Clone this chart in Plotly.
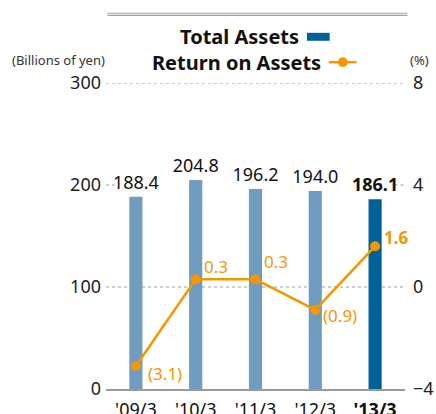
import plotly.graph_objects as go

# Fiscal years (March year-end)
years = ["'09/3", "'10/3", "'11/3", "'12/3", "'13/3"]
total_assets = [188.4, 204.8, 196.2, 194.0, 186.1]   # billions of yen
roa = [-3.1, 0.3, 0.3, -0.9, 1.6]                    # percent
left_ticks = [0, 100, 200, 300]
right_ticks = [-4, 0, 4, 8]

FONT = "Noto Sans"
BAR_LIGHT = "#6f9cc0"
BAR_DARK = "#006196"
ORANGE = "#f39800"
GRID = "#9a9a9a"


def fmt_pct(v):
    return f"({abs(v):.1f})" if v < 0 else f"{v:.1f}"


n = len(years)
x = list(range(n))
bar_colors = [BAR_LIGHT] * (n - 1) + [BAR_DARK]
bar_text = [f"{v:.1f}" for v in total_assets[:-1]] + [f"<b>{total_assets[-1]:.1f}</b>"]
tick_text = years[:-1] + [f"<b>{years[-1]}</b>"]
# label offsets (px) beside each ROA point
roa_shift = [(10, -7), (6, 13), (6, 18), (6, -6), (7, 9)]

fig = go.Figure()
fig.add_trace(go.Bar(
    x=x, y=total_assets, width=0.22, marker=dict(color=bar_colors, line=dict(width=0)),
    text=bar_text, textposition="outside", cliponaxis=False, constraintext="none",
    textfont=dict(family=FONT, size=18, color="#111"),
    name="Total Assets", yaxis="y",
))
fig.add_trace(go.Scatter(
    x=x, y=roa, mode="lines+markers",
    line=dict(color=ORANGE, width=2.5), marker=dict(color=ORANGE, size=10),
    cliponaxis=False, name="Return on Assets", yaxis="y2",
))

fig.update_layout(
    width=436, height=414,
    margin=dict(l=106, r=31, t=83, b=25, pad=0),
    paper_bgcolor="white", plot_bgcolor="white",
    showlegend=False,
    font=dict(family=FONT, color="#222"),
    xaxis=dict(
        range=[-0.5, n - 0.5], tickvals=x, ticktext=tick_text, automargin=False,
        showgrid=False, zeroline=False, ticklabelstandoff=4,
        showline=True, linecolor=GRID, linewidth=1.5,
        ticks="", tickfont=dict(family=FONT, size=18, color="#111"),
    ),
    yaxis=dict(
        range=[0, 300], tickvals=left_ticks, automargin=False, ticklabelstandoff=4,
        showgrid=False, zeroline=False, showline=False, ticks="",
        tickfont=dict(family=FONT, size=18, color="#222"),
    ),
    yaxis2=dict(
        range=[-4, 8], tickvals=right_ticks, overlaying="y", side="right", automargin=False,
        showgrid=False, zeroline=False, showline=False, ticks="", ticklabelstandoff=7,
        tickfont=dict(family=FONT, size=18, color="#222"),
    ),
)

shapes = []
# dotted gridlines at 100 and 300
for yv in [100, 300]:
    shapes.append(dict(type="line", xref="paper", yref="y", x0=0, x1=1, y0=yv, y1=yv,
                       layer="below", line=dict(color=GRID, width=1, dash="dot")))
# short dotted stubs of the 200 line at both ends
for x0, x1 in [(0.0, 0.028), (0.965, 1.0)]:
    shapes.append(dict(type="line", xref="paper", yref="y", x0=x0, x1=x1, y0=200, y1=200,
                       layer="below", line=dict(color=GRID, width=1, dash="dot")))
# double rule across the top
for yp in [1.228, 1.221]:
    shapes.append(dict(type="line", xref="paper", yref="paper", x0=0.005, x1=1.008,
                       y0=yp, y1=yp, line=dict(color="#a0a0a0", width=1.2)))
# legend keys
shapes.append(dict(type="rect", xref="paper", yref="paper", x0=0.672, x1=0.748,
                   y0=1.138, y1=1.164, fillcolor=BAR_DARK, line=dict(width=0)))
shapes.append(dict(type="line", xref="paper", yref="paper", x0=0.745, x1=0.838,
                   y0=1.068, y1=1.068, line=dict(color=ORANGE, width=2.5)))
shapes.append(dict(type="circle", xref="paper", yref="paper", x0=0.776, x1=0.808,
                   y0=1.052, y1=1.084, fillcolor=ORANGE, line=dict(width=0)))
fig.update_layout(shapes=shapes)

annotations = [
    dict(text="<b>Total Assets</b>", xref="paper", yref="paper", x=0.653, y=1.153,
         xanchor="right", yanchor="middle", showarrow=False,
         font=dict(family=FONT, size=20, color="#111")),
    dict(text="<b>Return on Assets</b>", xref="paper", yref="paper", x=0.727, y=1.068,
         xanchor="right", yanchor="middle", showarrow=False,
         font=dict(family=FONT, size=20, color="#111")),
    dict(text="(Billions of yen)", xref="paper", yref="paper", x=0.005, y=1.075,
         xanchor="right", yanchor="middle", showarrow=False,
         font=dict(family=FONT, size=13, color="#333")),
    dict(text="(%)", xref="paper", yref="paper", x=1.01, y=1.075,
         xanchor="left", yanchor="middle", showarrow=False,
         font=dict(family=FONT, size=13, color="#333")),
]
# ROA value labels beside each point
for xi, v, (dx, dy) in zip(x, roa, roa_shift):
    annotations.append(dict(
        text=fmt_pct(v) if xi < n - 1 else f"<b>{fmt_pct(v)}</b>",
        xref="x", yref="y2", x=xi, y=v, xanchor="left", yanchor="middle",
        xshift=dx, yshift=dy, showarrow=False,
        font=dict(family=FONT, size=17, color=ORANGE),
    ))
fig.update_layout(annotations=annotations)

fig.write_html("out.html")
